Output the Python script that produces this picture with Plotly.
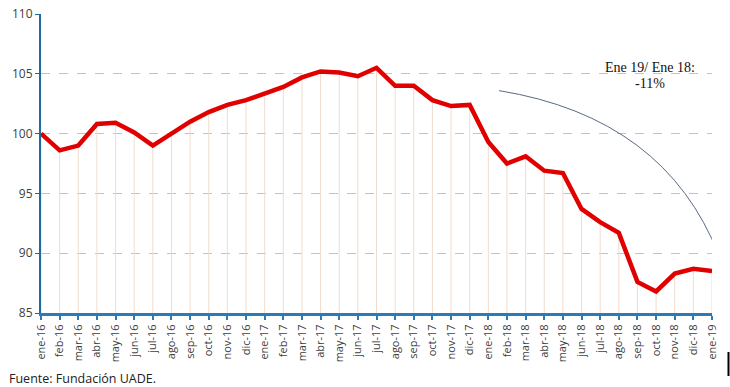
import plotly.graph_objects as go

months = ["ene-16","feb-16","mar-16","abr-16","may-16","jun-16","jul-16","ago-16","sep-16","oct-16","nov-16","dic-16",
          "ene-17","feb-17","mar-17","abr-17","may-17","jun-17","jul-17","ago-17","sep-17","oct-17","nov-17","dic-17",
          "ene-18","feb-18","mar-18","abr-18","may-18","jun-18","jul-18","ago-18","sep-18","oct-18","nov-18","dic-18",
          "ene-19"]
values = [100.0, 98.6, 99.0, 100.8, 100.9, 100.1, 99.0, 100.0, 101.0, 101.8, 102.4, 102.8,
          103.4, 103.9, 104.7, 105.2, 105.1, 104.8, 105.5, 104.0, 104.0, 102.8, 102.3, 102.4,
          99.3, 97.5, 98.1, 96.9, 96.7, 93.7, 92.6, 91.7, 87.6, 86.8, 88.3, 88.7,
          88.5]
y_ticks = [85, 90, 95, 100, 105, 110]
base = 85

xs = list(range(len(months)))

drop_x, drop_y = [], []
for i, v in zip(xs, values):
    drop_x += [i, i, None]
    drop_y += [base, v, None]

fig = go.Figure()
fig.add_trace(go.Scatter(x=drop_x, y=drop_y, mode="lines",
                         line=dict(color="#f0dccd", width=1), hoverinfo="skip", showlegend=False))
fig.add_trace(go.Scatter(x=xs, y=values, mode="lines",
                         line=dict(color="#e00000", width=4.5), showlegend=False))

# arc annotation (in data coords)
def px_to_data(px, py):
    return (px - 41) / ((712 - 41) / 36), 100 + (134 - py) / 11.96

p0 = px_to_data(499, 91)
c = px_to_data(665, 118)
p2 = px_to_data(719, 256)
fig.add_shape(type="path", xref="x", yref="y",
              path=f"M {p0[0]},{p0[1]} Q {c[0]},{c[1]} {p2[0]},{p2[1]}",
              line=dict(color="#5a6a80", width=1))

fig.add_annotation(xref="paper", yref="paper", x=(650 - 41) / 671, y=1 - (67 - 14) / 299,
                   text="Ene 19/ Ene 18:", showarrow=False, xanchor="center", yanchor="middle",
                   font=dict(family="Liberation Serif", size=14, color="#111111"))
fig.add_annotation(xref="paper", yref="paper", x=(650 - 41) / 671, y=1 - (83 - 14) / 299,
                   text="-11%", showarrow=False, xanchor="center", yanchor="middle",
                   font=dict(family="Liberation Serif", size=14, color="#111111"))

fig.add_annotation(xref="paper", yref="paper", x=-34 / 671, y=-(378 - 313) / 299,
                   text="Fuente: Fundación UADE.", showarrow=False, xanchor="left", yanchor="middle",
                   font=dict(family="Open Sans", size=12.5, color="#222222"))

fig.add_shape(type="line", xref="paper", yref="paper",
              x0=(728.5 - 41) / 671, x1=(728.5 - 41) / 671,
              y0=-(352 - 313) / 299, y1=-(376 - 313) / 299,
              line=dict(color="#000000", width=2))

fig.update_layout(
    width=730, height=387,
    margin=dict(l=41, r=18, t=14, b=74, autoexpand=False),
    plot_bgcolor="white", paper_bgcolor="white",
    font=dict(family="Open Sans", color="#404040"),
    xaxis=dict(range=[0, 36], tickmode="array", tickvals=xs, ticktext=months, automargin=False,
               tickangle=-90, tickfont=dict(size=11, color="#404040"),
               showgrid=False, zeroline=False, showline=True, linecolor="#2b7bb9", linewidth=3,
               ticks="outside", ticklen=4, tickcolor="#2b7bb9", tickwidth=2),
    yaxis=dict(range=[85, 110], tickvals=y_ticks, tickfont=dict(size=12, color="#404040"),
               automargin=False,
               showgrid=True, gridcolor="#a6cbe6", griddash="dash", gridwidth=1,
               zeroline=False, showline=True, linecolor="#1f6aa3", linewidth=2,
               ticks="outside", ticklen=4, tickcolor="#1f6aa3"),
)

fig.write_html("out.html", config={"displayModeBar": False},
               post_script="document.body.style.margin='0';document.body.style.overflow='hidden';")
